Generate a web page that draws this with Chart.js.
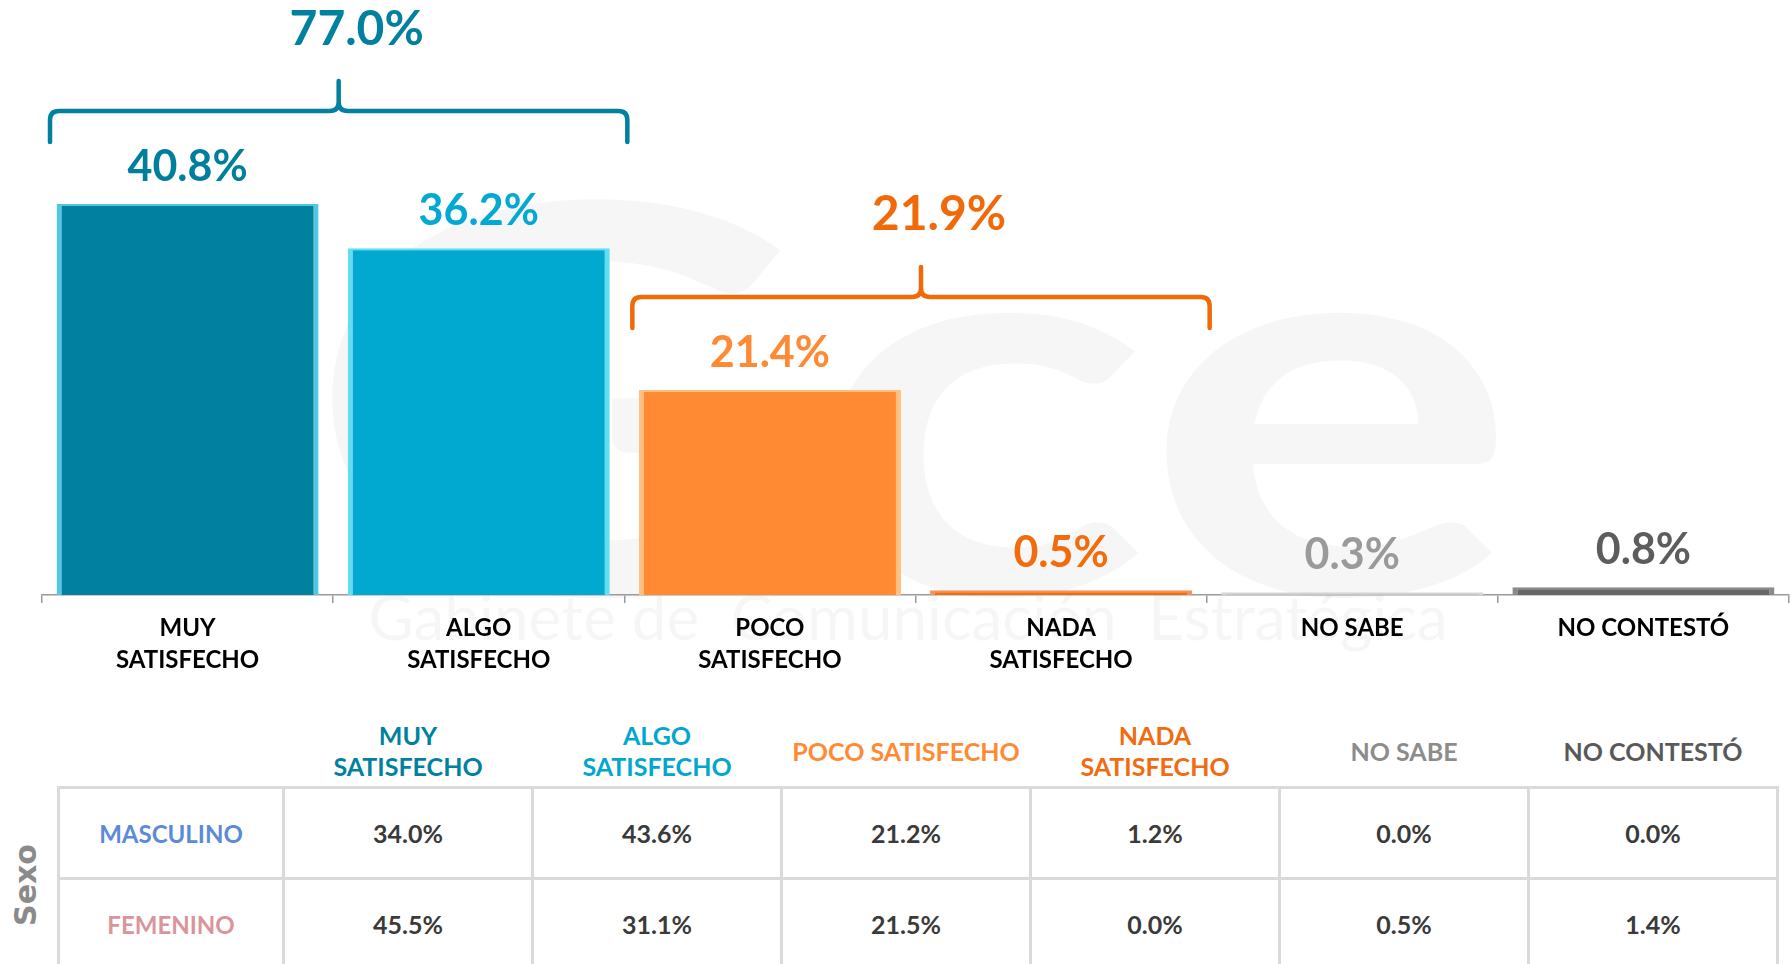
<!DOCTYPE html>
<html>
<head>
<meta charset="utf-8">
<script src="https://cdn.jsdelivr.net/npm/chart.js@4/dist/chart.umd.min.js"></script>
<style>
  html, body { margin: 0; padding: 0; background: #fff; }
  body { width: 1791px; height: 964px; position: relative; overflow: hidden; font-family: Lato, sans-serif; }
  #wrap { position: absolute; left: 0; top: 0; width: 1791px; height: 700px; }
  #sexo { position: absolute; left: 25px; top: 885px; transform: translate(-50%, -50%) rotate(-90deg);
    font: bold 30px "DejaVu Sans", sans-serif; color: #8a8a8a; white-space: nowrap; }
  #tbl { position: absolute; left: 57px; top: 716px; border-collapse: collapse; table-layout: fixed; }
  #tbl th { height: 70px; padding: 0; font-size: 25px; font-weight: bold; line-height: 31px; text-align: center; vertical-align: middle; }
  #tbl td { height: 88px; padding: 0; border: 3px solid #dadada; text-align: center; vertical-align: middle;
    font-size: 25px; font-weight: bold; color: #3a3a3a; }
  #tbl td.row { font-size: 24px; }
</style>
</head>
<body>
<div id="wrap"><canvas id="chart"></canvas></div>
<div id="sexo">Sexo</div>
<table id="tbl"></table>
<script>
const categories = [['MUY', 'SATISFECHO'], ['ALGO', 'SATISFECHO'], ['POCO', 'SATISFECHO'], ['NADA', 'SATISFECHO'], 'NO SABE', 'NO CONTESTÓ']
const values = [40.8, 36.2, 21.4, 0.5, 0.3, 0.8]
const groupRanges = [[0, 1], [2, 3]]
const groupValues = [77.0, 21.9]

const tableHeaders = [['MUY', 'SATISFECHO'], ['ALGO', 'SATISFECHO'], ['POCO SATISFECHO'], ['NADA', 'SATISFECHO'], ['NO SABE'], ['NO CONTESTÓ']]
const rowLabels = ['MASCULINO', 'FEMENINO']
const masculino = [34.0, 43.6, 21.2, 1.2, 0.0, 0.0]
const femenino = [45.5, 31.1, 21.5, 0.0, 0.5, 1.4]

const barColors = ['#01819f', '#01a9d0', '#ff8a33', '#f26c14', '#c4c4c4', '#676767']
const edgeColors = ['#52c7e0', '#62def4', '#ffc082', '#f5925a', '#d6d6d6', '#8a8a8a']
const labelColors = ['#007f9d', '#02a9d3', '#ff8a33', '#f26b0c', '#9a9a9a', '#5d5d5d']
const groupColors = ['#01819f', '#f06a0a']
const headerColors = ['#00829f', '#02a7cf', '#ff8a33', '#f26b10', '#8c8c8c', '#595959']
const rowColors = ['#5a8ad8', '#d9959a']

const fmt = v => v.toFixed(1) + '%'

// table under the chart
function buildTable() {
  const cols = '<colgroup><col style="width:225px">' + tableHeaders.map(() => '<col style="width:249px">').join('') + '</colgroup>'
  const head = '<tr><th></th>' + tableHeaders
    .map((h, i) => `<th style="color:${headerColors[i]}">${h.join('<br>')}</th>`)
    .join('') + '</tr>'
  const rows = [masculino, femenino].map((row, r) =>
    `<tr><td class="row" style="color:${rowColors[r]}">${rowLabels[r]}</td>` +
    row.map(v => `<td>${fmt(v)}</td>`).join('') + '</tr>'
  ).join('')
  document.getElementById('tbl').innerHTML = cols + head + rows
}
buildTable()

const background = {
  id: 'background',
  beforeDraw(chart) {
    const ctx = chart.ctx
    ctx.save()
    ctx.fillStyle = '#fff'
    ctx.fillRect(0, 0, chart.width, chart.height)
    // faint watermark
    ctx.fillStyle = 'rgba(0,0,0,0.035)'
    ctx.textAlign = 'center'
    ctx.textBaseline = 'alphabetic'
    ctx.save()
    ctx.translate(912, 594)
    ctx.scale(1.3, 1)
    ctx.font = 'bold 540px Lato'
    ctx.fillText('Gce', 0, 0)
    ctx.restore()
    ctx.font = '62px Lato'
    ctx.fillText('Gabinete de  Comunicación  Estratégica', 908, 640)
    ctx.restore()
  }
}

const annotations = {
  id: 'annotations',
  afterDatasetsDraw(chart) {
    const ctx = chart.ctx
    const meta = chart.getDatasetMeta(0)
    const xs = chart.scales.x
    const ys = chart.scales.y
    ctx.save()
    ctx.textAlign = 'center'
    ctx.textBaseline = 'middle'
    ctx.font = 'bold 43px Lato'
    meta.data.forEach((bar, i) => {
      ctx.fillStyle = labelColors[i]
      ctx.fillText(fmt(values[i]), bar.x, bar.y - 37)
    })

    const half = (xs.getPixelForValue(1) - xs.getPixelForValue(0)) / 2
    groupRanges.forEach((g, k) => {
      const x0 = xs.getPixelForValue(g[0]) - half + 8
      const x1 = xs.getPixelForValue(g[1]) + half + 3
      const xm = (x0 + x1) / 2
      const top = ys.getPixelForValue(Math.max(...values.slice(g[0], g[1] + 1)))
      const yEnd = top - 62
      const yLine = top - 93
      const yTop = top - 123
      const r = 9
      ctx.strokeStyle = groupColors[k]
      ctx.lineWidth = 4.5
      ctx.lineJoin = 'round'
      ctx.lineCap = 'round'
      ctx.beginPath()
      ctx.moveTo(x0, yEnd)
      ctx.lineTo(x0, yLine + r)
      ctx.quadraticCurveTo(x0, yLine, x0 + r, yLine)
      ctx.lineTo(xm - r, yLine)
      ctx.quadraticCurveTo(xm, yLine, xm, yLine - r)
      ctx.lineTo(xm, yTop)
      ctx.moveTo(xm, yLine - r)
      ctx.quadraticCurveTo(xm, yLine, xm + r, yLine)
      ctx.lineTo(x1 - r, yLine)
      ctx.quadraticCurveTo(x1, yLine, x1, yLine + r)
      ctx.lineTo(x1, yEnd)
      ctx.stroke()
      ctx.fillStyle = groupColors[k]
      ctx.font = 'bold 48px Lato'
      ctx.fillText(fmt(groupValues[k]), xm + 18, top - 175)
    })
    ctx.restore()
  }
}

new Chart(document.getElementById('chart'), {
  type: 'bar',
  data: {
    labels: categories,
    datasets: [{
      data: values,
      backgroundColor: barColors,
      borderColor: edgeColors,
      borderWidth: { top: 2, left: 5, right: 5, bottom: 0 },
      borderSkipped: 'bottom',
      categoryPercentage: 1,
      barPercentage: 0.9
    }]
  },
  options: {
    responsive: true,
    maintainAspectRatio: false,
    animation: false,
    layout: { padding: { left: 42, right: 2, top: 0, bottom: 0 } },
    plugins: { legend: { display: false }, tooltip: { enabled: false } },
    scales: {
      y: { display: false, min: 0, max: 62.1 },
      x: {
        afterFit: s => { s.height = 105 },
        grid: { offset: true, drawOnChartArea: false, drawTicks: true, tickLength: 8, color: '#9a9a9a', lineWidth: 1.5 },
        border: { display: true, color: '#9a9a9a', width: 1.5 },
        ticks: {
          color: '#000',
          padding: 9,
          maxRotation: 0,
          autoSkip: false,
          font: { family: 'Lato', size: 24, weight: 'bold', lineHeight: 1.33 }
        }
      }
    }
  },
  plugins: [background, annotations]
})
</script>
</body>
</html>
